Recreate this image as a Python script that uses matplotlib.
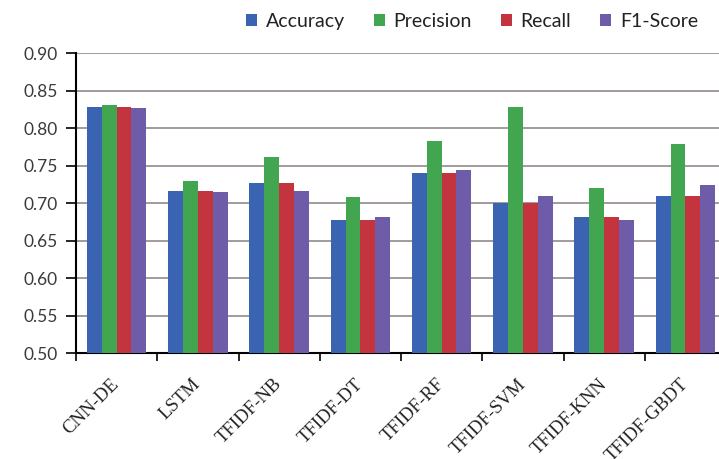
import matplotlib.pyplot as plt
import matplotlib.transforms as mtransforms
import numpy as np

models = ["CNN-DE", "LSTM", "TFIDF-NB", "TFIDF-DT", "TFIDF-RF", "TFIDF-SVM", "TFIDF-KNN", "TFIDF-GBDT"]
accuracy = [0.829, 0.717, 0.727, 0.678, 0.740, 0.700, 0.682, 0.710]
precision = [0.831, 0.730, 0.762, 0.708, 0.783, 0.829, 0.721, 0.779]
recall = [0.829, 0.717, 0.727, 0.678, 0.740, 0.700, 0.682, 0.710]
f1_score = [0.827, 0.715, 0.717, 0.682, 0.745, 0.710, 0.678, 0.725]

series = [("Accuracy", accuracy, "#3a63b2"),
          ("Precision", precision, "#42a651"),
          ("Recall", recall, "#c4343f"),
          ("F1-Score", f1_score, "#6e5ca9")]

fig = plt.figure(figsize=(7.19, 4.59), dpi=100)
ax = fig.add_axes([76 / 719, 1 - 353.3 / 459, 650 / 719, 300 / 459])

x = np.arange(len(models))
w = 0.183
for i, (name, vals, col) in enumerate(series):
    ax.bar(x + (i - 1.5) * w, vals, width=w, color=col, label=name, zorder=3)

yt = np.arange(0.5, 0.91, 0.05)
ax.set_ylim(0.5, 0.9)
ax.set_xlim(-0.5, len(models) - 0.5)
ax.set_yticks(yt)
ax.set_yticklabels([f"{v:.2f}" for v in yt], fontsize=12.5, family="Lato", color="#3a3a3a")
ax.grid(axis="y", color="#8a8080", linewidth=1.1, zorder=0)

# category boundary ticks + rotated labels at centres
ax.set_xticks(np.arange(-0.5, len(models), 1.0))
ax.set_xticklabels([])
ax.set_xticks(x, minor=True)
ax.set_xticklabels(models, minor=True, rotation=45, ha="right", rotation_mode="anchor",
                   family="Liberation Serif", fontsize=13.5, color="#222222")
ax.tick_params(axis="x", which="minor", length=0, pad=16)
ax.tick_params(axis="x", which="major", length=6, width=1.2, direction="out")
ax.tick_params(axis="y", length=7, width=1.2, direction="out", pad=6)
shift = mtransforms.ScaledTranslation(-6 / 100, 0, fig.dpi_scale_trans)
for lab in ax.get_xticklabels(minor=True):
    lab.set_transform(lab.get_transform() + shift)

for s in ["top", "right"]:
    ax.spines[s].set_visible(False)
ax.spines["left"].set_linewidth(1.5)
ax.spines["bottom"].set_linewidth(1.5)

fig.legend(loc="upper right", bbox_to_anchor=(0.995, 1.01), ncol=4, frameon=False,
           handlelength=0.55, handleheight=0.55, handletextpad=0.45, columnspacing=1.5,
           prop={"family": "Lato", "size": 14}, labelcolor="#222222")

fig.savefig("out.png", dpi=100)
